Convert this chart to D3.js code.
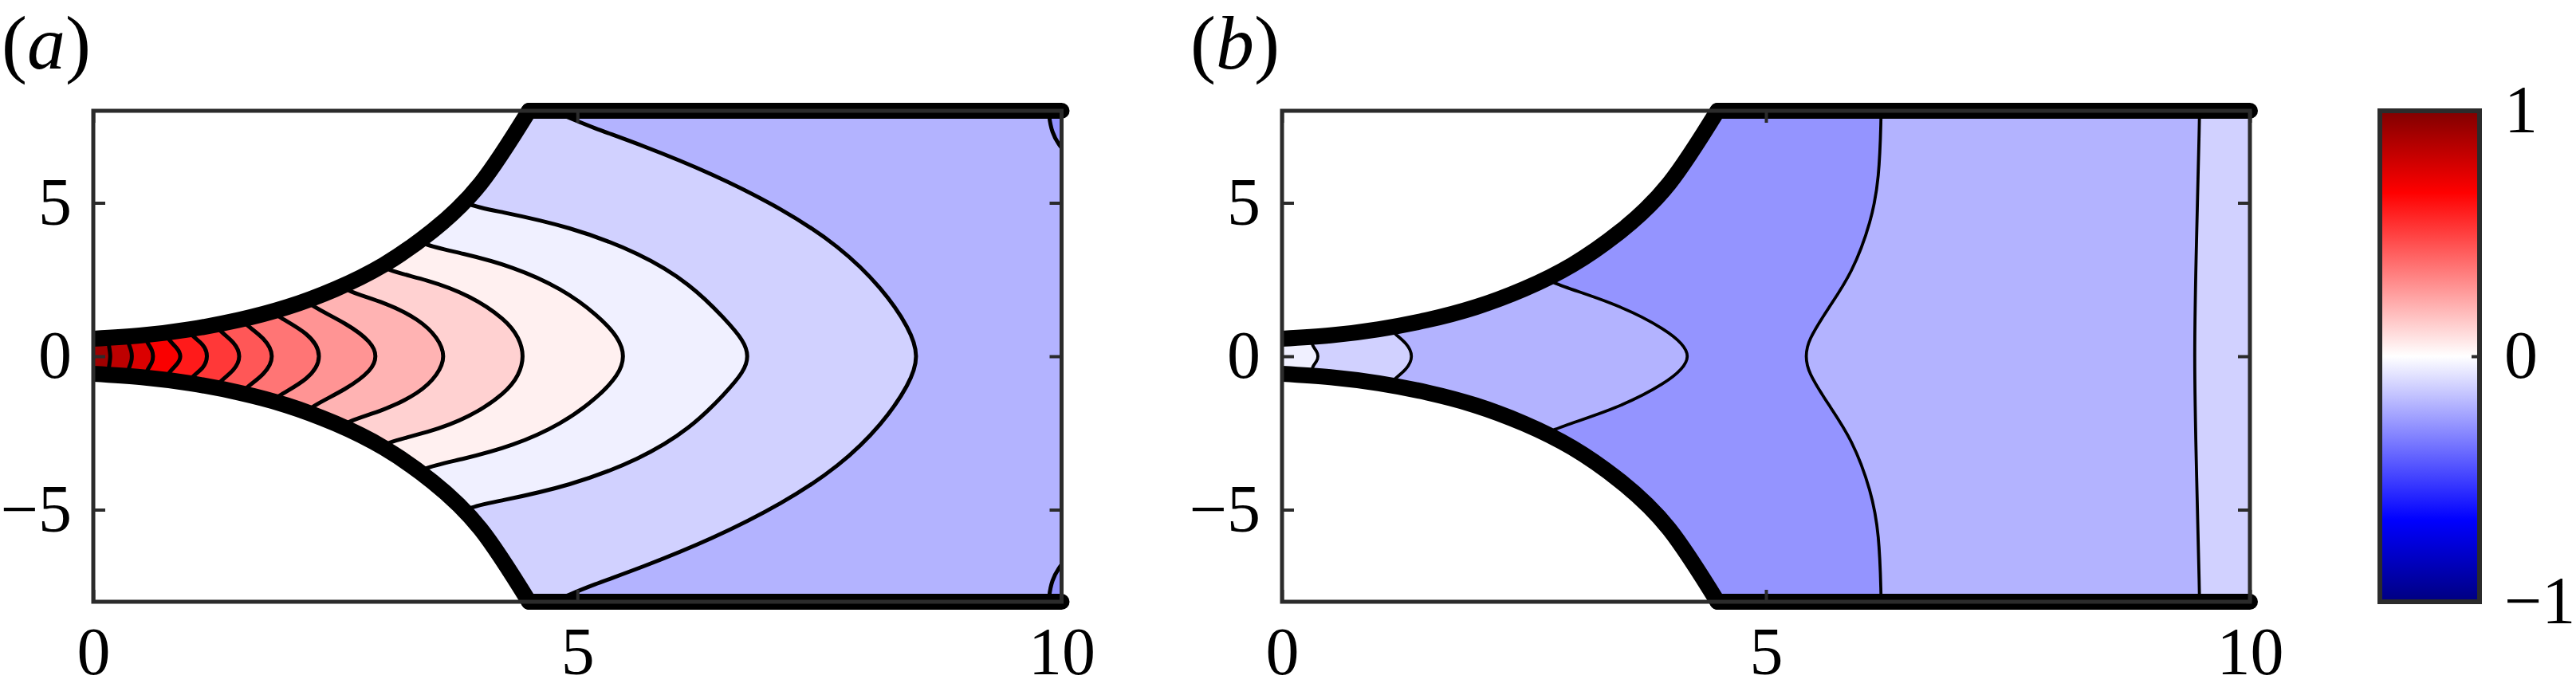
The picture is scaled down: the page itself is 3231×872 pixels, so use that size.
<!DOCTYPE html>
<html>
<head>
<meta charset="utf-8">
<script src="https://cdn.jsdelivr.net/npm/d3@7"></script>
<style>
  body { margin: 0; background: #fff; }
  svg { display: block; }
</style>
</head>
<body>
<div id="fig"></div>
<script>
var width = 3231;
var height = 872;

// upper wall of the channel (data units), lower wall is its mirror
var wallX = [0, 0.5, 1, 1.5, 2, 2.5, 3, 3.5, 4, 4.5];
var wallY = [0.57, 0.68, 0.88, 1.18, 1.6, 2.19, 2.98, 4.08, 5.63, 8.0];

var xTicks = [0, 5, 10];
var yTicks = [-5, 0, 5];
var cbarTicks = [-1, 0, 1];

// colour map (value -> colour)
var cmapStops = [-1, -2 / 3, 0, 2 / 3, 1];
var cmapColors = ["#000080", "#0000ff", "#ffffff", "#ff0000", "#800000"];

// (a) contour lines, inner to outer, each traced top wall -> bottom wall
var contoursA = [
  [[0.15, 0.65], [0.165, 0.27], [0.18, 0], [0.165, -0.27], [0.15, -0.65]],
  [[0.34, 0.7], [0.37, 0.36], [0.395, 0.17], [0.40, 0], [0.395, -0.17], [0.37, -0.36], [0.34, -0.7]],
  [[0.52, 0.75], [0.56, 0.42], [0.61, 0.21], [0.62, 0], [0.61, -0.21], [0.56, -0.42], [0.52, -0.75]],
  [[0.73, 0.85], [0.78, 0.51], [0.875, 0.25], [0.91, 0], [0.875, -0.25], [0.78, -0.51], [0.73, -0.85]],
  [[0.96, 1.0], [1.02, 0.64], [1.14, 0.4], [1.19, 0], [1.14, -0.4], [1.02, -0.64], [0.96, -1.0]],
  [[1.24, 1.15], [1.30, 0.83], [1.46, 0.46], [1.53, 0], [1.46, -0.46], [1.30, -0.83], [1.24, -1.15]],
  [[1.5, 1.35], [1.57, 1.03], [1.77, 0.6], [1.88, 0], [1.77, -0.6], [1.57, -1.03], [1.5, -1.35]],
  [[1.8, 1.65], [1.88, 1.32], [2.23, 0.76], [2.38, 0], [2.23, -0.76], [1.88, -1.32], [1.8, -1.65]],
  [[2.15, 2.0], [2.23, 1.66], [2.62, 1.07], [2.88, 0.45], [2.93, 0], [2.88, -0.45], [2.62, -1.07], [2.23, -1.66], [2.15, -2.0]],
  [[2.52, 2.45], [2.6, 2.13], [3.0, 1.77], [3.37, 1.2], [3.56, 0.6], [3.64, 0], [3.56, -0.6], [3.37, -1.2], [3.0, -1.77], [2.6, -2.13], [2.52, -2.45]],
  [[2.93, 3.15], [3.0, 2.81], [3.45, 2.5], [3.89, 1.99], [4.26, 1.2], [4.4, 0.6], [4.45, 0], [4.4, -0.6], [4.26, -1.2], [3.89, -1.99], [3.45, -2.5], [3.0, -2.81], [2.93, -3.15]],
  [[3.3, 4.0], [3.37, 3.65], [3.81, 3.36], [4.33, 2.93], [4.84, 2.21], [5.21, 1.34], [5.43, 0.6], [5.49, 0], [5.43, -0.6], [5.21, -1.34], [4.84, -2.21], [4.33, -2.93], [3.81, -3.36], [3.37, -3.65], [3.3, -4.0]],
  [[3.78, 5.3], [3.85, 4.92], [4.18, 4.73], [4.92, 4.23], [5.65, 3.36], [6.17, 2.35], [6.53, 1.2], [6.72, 0.5], [6.77, 0], [6.72, -0.5], [6.53, -1.2], [6.17, -2.35], [5.65, -3.36], [4.92, -4.23], [4.18, -4.73], [3.85, -4.92], [3.78, -5.3]],
  [[4.65, 8.12], [4.88, 7.82], [5.14, 7.47], [5.65, 6.9], [6.39, 5.96], [7.12, 4.8], [7.71, 3.58], [8.15, 2.21], [8.43, 0.91], [8.53, 0], [8.43, -0.91], [8.15, -2.21], [7.71, -3.58], [7.12, -4.8], [6.39, -5.96], [5.65, -6.9], [5.14, -7.47], [4.88, -7.82], [4.65, -8.12]]
];
// value of the band just left of each contour
var fillA = [0.92, 0.84, 0.76, 0.68, 0.60, 0.52, 0.44, 0.36, 0.28, 0.20, 0.12, 0.04, -0.04, -0.12];
var baseA = -0.20;
// little closed corners at the outlet of (a), traced downwards
var cornersA = [
  [[9.86, 8.3], [9.87, 7.8], [9.9, 7.3], [9.97, 6.89], [10.05, 6.6]],
  [[10.05, -6.6], [9.97, -6.89], [9.9, -7.3], [9.87, -7.8], [9.86, -8.3]]
];
var cornerFillA = -0.28;

// (b) contour lines
var contoursB = [
  [[0.3, 0.65], [0.31, 0.34], [0.36, 0.17], [0.376, 0], [0.36, -0.17], [0.31, -0.34], [0.3, -0.65]],
  [[1.1, 1.0], [1.16, 0.73], [1.29, 0.43], [1.36, 0], [1.29, -0.43], [1.16, -0.73], [1.1, -1.0]],
  [[2.65, 2.75], [2.72, 2.44], [3.41, 1.77], [3.96, 0.92], [4.3, 0], [3.96, -0.92], [3.41, -1.77], [2.72, -2.44], [2.65, -2.75]],
  [[6.19, 8.3], [6.19, 7.8], [6.17, 5.8], [6.09, 4.4], [5.89, 2.7], [5.64, 1.55], [5.43, 0.5], [5.41, 0], [5.43, -0.5], [5.64, -1.55], [5.89, -2.7], [6.09, -4.4], [6.17, -5.8], [6.19, -7.8], [6.19, -8.3]],
  [[9.48, 8.3], [9.48, 7.8], [9.45, 4], [9.42, 0], [9.45, -4], [9.48, -7.8], [9.48, -8.3]]
];
var fillB = [-0.04, -0.12, -0.20, -0.28, -0.20];
var baseB = -0.12;

// layout
var plotTop = 139, plotBottom = 755;
var fontFam = "'Liberation Serif', 'Times New Roman', serif";
var axisCol = "#2b2b2b";

var color = d3.scaleLinear().domain(cmapStops).range(cmapColors);

// tick labels with a real minus sign
function fmt(d) {
  return d < 0 ? "\u2212" + Math.abs(d) : String(d);
}

var svg = d3.select("#fig")
  .append("svg")
  .attr("width", width)
  .attr("height", height);

svg.append("rect").attr("width", width).attr("height", height).attr("fill", "#fff");
var defs = svg.append("defs");

function drawPanel(id, left, right, letter, labelX, contours, fills, base, corners, cornerFill, isoWidth) {
  var x = d3.scaleLinear().domain([0, 10]).range([left, right]);
  var y = d3.scaleLinear().domain([-8, 8]).range([plotBottom, plotTop]);

  var wallLine = d3.line()
    .x(function(p) { return x(p[0]); })
    .y(function(p) { return y(p[1]); })
    .curve(d3.curveNatural);
  var isoLine = d3.line()
    .x(function(p) { return x(p[0]); })
    .y(function(p) { return y(p[1]); })
    .curve(d3.curveBasis);
  var straight = d3.line()
    .x(function(p) { return x(p[0]); })
    .y(function(p) { return y(p[1]); });

  var upper = wallX.map(function(d, i) { return [d, wallY[i]]; });
  var lower = wallX.map(function(d, i) { return [d, -wallY[i]]; });

  // flow domain = union of an upper and a lower piece (they overlap around y = 0)
  var clip = defs.append("clipPath").attr("id", "dom" + id);
  clip.append("path").attr("d", wallLine(upper)
    + "L" + x(10) + "," + y(8) + "L" + x(10) + "," + y(-0.4) + "L" + x(0) + "," + y(-0.4) + "Z");
  clip.append("path").attr("d", wallLine(lower)
    + "L" + x(10) + "," + y(-8) + "L" + x(10) + "," + y(0.4) + "L" + x(0) + "," + y(0.4) + "Z");

  defs.append("clipPath").attr("id", "wall" + id)
    .append("rect")
    .attr("x", x(0)).attr("y", 0)
    .attr("width", x(10) - x(0) + 12).attr("height", height);

  var g = svg.append("g");
  var fillG = g.append("g").attr("clip-path", "url(#dom" + id + ")");

  fillG.append("rect")
    .attr("x", x(0)).attr("y", y(8))
    .attr("width", x(10) - x(0)).attr("height", y(-8) - y(8))
    .attr("fill", color(base));

  // bands, painted from outside in
  var bands = contours.map(function(c, i) { return { c: c, v: fills[i] }; }).reverse();
  fillG.selectAll("path.band")
    .data(bands)
    .enter()
    .append("path")
    .attr("class", "band")
    .attr("d", function(d) {
      return isoLine(d.c) + "L" + x(-1) + "," + y(-9) + "L" + x(-1) + "," + y(9) + "Z";
    })
    .attr("fill", function(d) { return color(d.v); });

  fillG.selectAll("path.corner")
    .data(corners)
    .enter()
    .append("path")
    .attr("class", "corner")
    .attr("d", function(c) {
      var a = c[0], b = c[c.length - 1];
      return isoLine(c) + "L" + x(10.6) + "," + y(b[1]) + "L" + x(10.6) + "," + y(a[1]) + "Z";
    })
    .attr("fill", color(cornerFill));

  // contour lines
  fillG.selectAll("path.iso")
    .data(contours.concat(corners))
    .enter()
    .append("path")
    .attr("class", "iso")
    .attr("d", isoLine)
    .attr("fill", "none")
    .attr("stroke", "#000")
    .attr("stroke-width", isoWidth);

  // thick walls
  var wallG = g.append("g").attr("clip-path", "url(#wall" + id + ")")
    .attr("fill", "none")
    .attr("stroke", "#000")
    .attr("stroke-width", 20)
    .attr("stroke-linecap", "round")
    .attr("stroke-linejoin", "round");
  wallG.selectAll("path.curved")
    .data([upper, lower])
    .enter()
    .append("path")
    .attr("class", "curved")
    .attr("d", wallLine);
  wallG.selectAll("path.flat")
    .data([[[4.5, 8], [10, 8]], [[4.5, -8], [10, -8]]])
    .enter()
    .append("path")
    .attr("class", "flat")
    .attr("d", straight);

  // box
  g.append("rect")
    .attr("x", x(0)).attr("y", y(8))
    .attr("width", x(10) - x(0)).attr("height", y(-8) - y(8))
    .attr("fill", "none")
    .attr("stroke", axisCol)
    .attr("stroke-width", 5);

  var axes = [
    g.append("g").attr("transform", "translate(0," + plotBottom + ")")
      .call(d3.axisBottom(x).tickValues(xTicks).tickSize(-15).tickPadding(31).tickFormat(fmt)),
    g.append("g").attr("transform", "translate(" + left + ",0)")
      .call(d3.axisLeft(y).tickValues(yTicks).tickSize(-15).tickPadding(27).tickFormat(fmt)),
    g.append("g").attr("transform", "translate(0," + plotTop + ")")
      .call(d3.axisTop(x).tickValues(xTicks).tickSize(-15).tickFormat("")),
    g.append("g").attr("transform", "translate(" + right + ",0)")
      .call(d3.axisRight(y).tickValues(yTicks).tickSize(-15).tickFormat(""))
  ];
  axes.forEach(function(a) {
    a.select(".domain").remove();
    a.selectAll(".tick line").attr("stroke", axisCol).attr("stroke-width", 4);
    a.selectAll("text")
      .attr("font-family", fontFam)
      .attr("font-size", 84)
      .attr("fill", "#000");
  });

  var lab = svg.append("text")
    .attr("x", labelX).attr("y", 86)
    .attr("font-family", fontFam)
    .attr("font-size", 96)
    .attr("fill", "#000");
  lab.append("tspan").text("(");
  lab.append("tspan").attr("font-style", "italic").text(letter);
  lab.append("tspan").text(")");
}

drawPanel("a", 117, 1331.5, "a", 2, contoursA, fillA, baseA, cornersA, cornerFillA, 5);
drawPanel("b", 1608, 2822, "b", 1493, contoursB, fillB, baseB, [], cornerFillA, 3.8);

// colour bar
var cbLeft = 2985, cbRight = 3110;
var cy = d3.scaleLinear().domain([-1, 1]).range([plotBottom, plotTop]);

var grad = defs.append("linearGradient")
  .attr("id", "cmap")
  .attr("x1", 0).attr("y1", 0).attr("x2", 0).attr("y2", 1);
grad.selectAll("stop")
  .data(cmapStops.slice().reverse())
  .enter()
  .append("stop")
  .attr("offset", function(v) { return (1 - v) / 2; })
  .attr("stop-color", function(v) { return color(v); });

svg.append("rect")
  .attr("x", cbLeft).attr("y", cy(1))
  .attr("width", cbRight - cbLeft).attr("height", cy(-1) - cy(1))
  .attr("fill", "url(#cmap)")
  .attr("stroke", axisCol)
  .attr("stroke-width", 6);

var cbAxis = svg.append("g")
  .attr("transform", "translate(" + cbRight + ",0)")
  .call(d3.axisRight(cy).tickValues(cbarTicks).tickSize(-10).tickPadding(31).tickFormat(fmt));
cbAxis.select(".domain").remove();
cbAxis.selectAll(".tick line").attr("stroke", axisCol).attr("stroke-width", 4);
cbAxis.selectAll("text")
  .attr("font-family", fontFam)
  .attr("font-size", 84)
  .attr("fill", "#000");
</script>
</body>
</html>
